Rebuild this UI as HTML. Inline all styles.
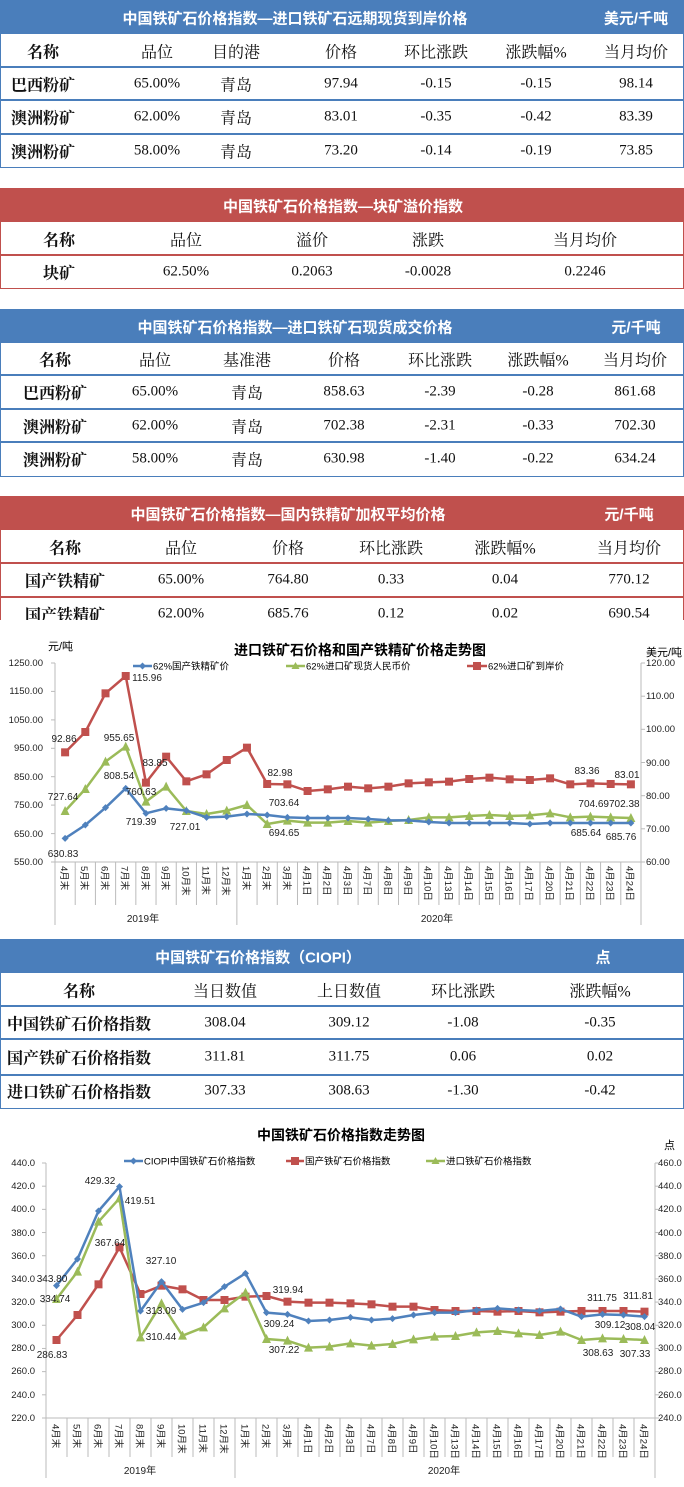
<!DOCTYPE html>
<html><head><meta charset="utf-8">
<style>
html,body{margin:0;padding:0;background:#fff}
body{width:684px;height:1487px;position:relative;overflow:hidden;font-family:"Liberation Serif","Noto Serif CJK SC",serif;color:#111}
.bar{position:absolute;left:0;width:684px;height:34px}
.blue{background:#4a7ebb}.red{background:#c0504d}
.box{position:absolute;left:0;width:682px;border:1px solid;border-top:none}
.ln{position:absolute;left:0;width:684px;height:1.5px}
.t{position:absolute;transform:translate(-50%,-50%);white-space:nowrap;font-size:15px}
.h{font-size:16px}
.b{font-weight:bold;font-size:16px;font-family:"Liberation Serif","Noto Serif CJK SC",serif}
.w{color:#fff;font-weight:bold;font-size:15px;font-family:"Liberation Sans","Noto Sans CJK SC",sans-serif}
svg text{font-family:"Liberation Sans","Noto Sans CJK SC",sans-serif}
</style></head><body>

<!-- Table 1 -->
<div class="bar blue" style="top:0"></div>
<div class="t w" style="left:295px;top:18px">中国铁矿石价格指数—进口铁矿石远期现货到岸价格</div>
<div class="t w" style="left:636px;top:18px">美元/千吨</div>
<div class="box" style="top:34px;height:133px;border-color:#4a7ebb"></div>
<div class="ln" style="top:66px;background:#4a7ebb"></div>
<div class="ln" style="top:99px;background:#4a7ebb"></div>
<div class="ln" style="top:133px;background:#4a7ebb"></div>
<div class="t b" style="left:43px;top:51px">名称</div><div class="t h" style="left:157px;top:51px">品位</div><div class="t h" style="left:236px;top:51px">目的港</div><div class="t h" style="left:341px;top:51px">价格</div><div class="t h" style="left:436px;top:51px">环比涨跌</div><div class="t h" style="left:536px;top:51px">涨跌幅%</div><div class="t h" style="left:636px;top:51px">当月均价</div>
<div class="t b" style="left:43px;top:84px">巴西粉矿</div><div class="t" style="left:157px;top:84px">65.00%</div><div class="t h" style="left:236px;top:84px">青岛</div><div class="t" style="left:341px;top:84px">97.94</div><div class="t" style="left:436px;top:84px">-0.15</div><div class="t" style="left:536px;top:84px">-0.15</div><div class="t" style="left:636px;top:84px">98.14</div>
<div class="t b" style="left:43px;top:117px">澳洲粉矿</div><div class="t" style="left:157px;top:117px">62.00%</div><div class="t h" style="left:236px;top:117px">青岛</div><div class="t" style="left:341px;top:117px">83.01</div><div class="t" style="left:436px;top:117px">-0.35</div><div class="t" style="left:536px;top:117px">-0.42</div><div class="t" style="left:636px;top:117px">83.39</div>
<div class="t b" style="left:43px;top:151px">澳洲粉矿</div><div class="t" style="left:157px;top:151px">58.00%</div><div class="t h" style="left:236px;top:151px">青岛</div><div class="t" style="left:341px;top:151px">73.20</div><div class="t" style="left:436px;top:151px">-0.14</div><div class="t" style="left:536px;top:151px">-0.19</div><div class="t" style="left:636px;top:151px">73.85</div>

<!-- Table 2 -->
<div class="bar red" style="top:188px"></div>
<div class="t w" style="left:343px;top:206px">中国铁矿石价格指数—块矿溢价指数</div>
<div class="box" style="top:222px;height:66px;border-color:#c0504d"></div>
<div class="ln" style="top:254px;background:#c0504d"></div>
<div class="t b" style="left:59px;top:239px">名称</div><div class="t h" style="left:186px;top:239px">品位</div><div class="t h" style="left:312px;top:239px">溢价</div><div class="t h" style="left:428px;top:239px">涨跌</div><div class="t h" style="left:585px;top:239px">当月均价</div>
<div class="t b" style="left:59px;top:272px">块矿</div><div class="t" style="left:186px;top:272px">62.50%</div><div class="t" style="left:312px;top:272px">0.2063</div><div class="t" style="left:428px;top:272px">-0.0028</div><div class="t" style="left:585px;top:272px">0.2246</div>

<!-- Table 3 -->
<div class="bar blue" style="top:309px"></div>
<div class="t w" style="left:295px;top:327px">中国铁矿石价格指数—进口铁矿石现货成交价格</div>
<div class="t w" style="left:636px;top:327px">元/千吨</div>
<div class="box" style="top:343px;height:133px;border-color:#4a7ebb"></div>
<div class="ln" style="top:374px;background:#4a7ebb"></div>
<div class="ln" style="top:408px;background:#4a7ebb"></div>
<div class="ln" style="top:441px;background:#4a7ebb"></div>
<div class="t b" style="left:55px;top:359px">名称</div><div class="t h" style="left:155px;top:359px">品位</div><div class="t h" style="left:247px;top:359px">基准港</div><div class="t h" style="left:344px;top:359px">价格</div><div class="t h" style="left:440px;top:359px">环比涨跌</div><div class="t h" style="left:538px;top:359px">涨跌幅%</div><div class="t h" style="left:635px;top:359px">当月均价</div>
<div class="t b" style="left:55px;top:392px">巴西粉矿</div><div class="t" style="left:155px;top:392px">65.00%</div><div class="t h" style="left:247px;top:392px">青岛</div><div class="t" style="left:344px;top:392px">858.63</div><div class="t" style="left:440px;top:392px">-2.39</div><div class="t" style="left:538px;top:392px">-0.28</div><div class="t" style="left:635px;top:392px">861.68</div>
<div class="t b" style="left:55px;top:426px">澳洲粉矿</div><div class="t" style="left:155px;top:426px">62.00%</div><div class="t h" style="left:247px;top:426px">青岛</div><div class="t" style="left:344px;top:426px">702.38</div><div class="t" style="left:440px;top:426px">-2.31</div><div class="t" style="left:538px;top:426px">-0.33</div><div class="t" style="left:635px;top:426px">702.30</div>
<div class="t b" style="left:55px;top:459px">澳洲粉矿</div><div class="t" style="left:155px;top:459px">58.00%</div><div class="t h" style="left:247px;top:459px">青岛</div><div class="t" style="left:344px;top:459px">630.98</div><div class="t" style="left:440px;top:459px">-1.40</div><div class="t" style="left:538px;top:459px">-0.22</div><div class="t" style="left:635px;top:459px">634.24</div>

<!-- Table 4 -->
<div style="position:absolute;left:0;top:496px;width:684px;height:124px;overflow:hidden">
<div class="bar red" style="top:0"></div>
<div class="t w" style="left:288px;top:18px">中国铁矿石价格指数—国内铁精矿加权平均价格</div>
<div class="t w" style="left:629px;top:18px">元/千吨</div>
<div class="box" style="top:34px;height:140px;border-color:#c0504d"></div>
<div class="ln" style="top:66px;background:#c0504d"></div>
<div class="ln" style="top:100px;background:#c0504d"></div>
<div class="t b" style="left:65px;top:51px">名称</div><div class="t h" style="left:181px;top:51px">品位</div><div class="t h" style="left:288px;top:51px">价格</div><div class="t h" style="left:391px;top:51px">环比涨跌</div><div class="t h" style="left:505px;top:51px">涨跌幅%</div><div class="t h" style="left:629px;top:51px">当月均价</div>
<div class="t b" style="left:65px;top:84px">国产铁精矿</div><div class="t" style="left:181px;top:84px">65.00%</div><div class="t" style="left:288px;top:84px">764.80</div><div class="t" style="left:391px;top:84px">0.33</div><div class="t" style="left:505px;top:84px">0.04</div><div class="t" style="left:629px;top:84px">770.12</div>
<div class="t b" style="left:65px;top:118px">国产铁精矿</div><div class="t" style="left:181px;top:118px">62.00%</div><div class="t" style="left:288px;top:118px">685.76</div><div class="t" style="left:391px;top:118px">0.12</div><div class="t" style="left:505px;top:118px">0.02</div><div class="t" style="left:629px;top:118px">690.54</div>
</div>

<!-- Chart 1 -->
<svg style="position:absolute;left:0;top:620px" width="684" height="310" viewBox="0 620 684 310">
<text x="360" y="655" text-anchor="middle" font-size="14" font-weight="bold" font-family="Liberation Serif,Noto Serif CJK SC,serif">进口铁矿石价格和国产铁精矿价格走势图</text>
<text x="48" y="650" font-size="11">元/吨</text>
<text x="646" y="656" font-size="11">美元/吨</text>
<g font-size="9.5" fill="#222">
<text x="43" y="666" text-anchor="end">1250.00</text><text x="43" y="694" text-anchor="end">1150.00</text><text x="43" y="723" text-anchor="end">1050.00</text><text x="43" y="751" text-anchor="end">950.00</text><text x="43" y="780" text-anchor="end">850.00</text><text x="43" y="808" text-anchor="end">750.00</text><text x="43" y="837" text-anchor="end">650.00</text><text x="43" y="865" text-anchor="end">550.00</text>
<text x="646" y="666">120.00</text><text x="646" y="699">110.00</text><text x="646" y="732">100.00</text><text x="646" y="766">90.00</text><text x="646" y="799">80.00</text><text x="646" y="832">70.00</text><text x="646" y="865">60.00</text>
</g>
<g stroke="#bbb" stroke-width="1" id="g1axes"></g>
<g id="g1data"></g>
<g font-size="9.5">
<line x1="133" y1="666" x2="152" y2="666" stroke="#4f81bd" stroke-width="2.5"/><path d="M142.5 662.5l3.5 3.5-3.5 3.5-3.5-3.5z" fill="#4f81bd"/><text x="153" y="669.5">62%国产铁精矿价</text>
<line x1="286" y1="666" x2="305" y2="666" stroke="#9bbb59" stroke-width="2.5"/><path d="M295.5 662l4 7h-8z" fill="#9bbb59"/><text x="306" y="669.5">62%进口矿现货人民币价</text>
<line x1="467" y1="666" x2="487" y2="666" stroke="#c0504d" stroke-width="2.5"/><rect x="473" y="662" width="8" height="8" fill="#c0504d"/><text x="488" y="669.5">62%进口矿到岸价</text>
</g>
<g font-size="10" text-anchor="middle" fill="#222">
<text x="64" y="742">92.86</text><text x="147" y="681">115.96</text><text x="119" y="741">955.65</text><text x="119" y="779">808.54</text><text x="63" y="800">727.64</text><text x="141" y="795">760.63</text><text x="155" y="766">83.85</text><text x="141" y="825">719.39</text><text x="185" y="830">727.01</text><text x="280" y="776">82.98</text><text x="284" y="806">703.64</text><text x="284" y="836">694.65</text><text x="63" y="857">630.83</text><text x="587" y="774">83.36</text><text x="627" y="778">83.01</text><text x="609" y="807">704.69702.38</text><text x="586" y="836">685.64</text><text x="621" y="840">685.76</text>
</g>
<g font-size="9.5" fill="#222">
<text transform="translate(61,866) rotate(90)">4月末</text><text transform="translate(81,866) rotate(90)">5月末</text><text transform="translate(101.5,866) rotate(90)">6月末</text><text transform="translate(121.7,866) rotate(90)">7月末</text><text transform="translate(141.9,866) rotate(90)">8月末</text><text transform="translate(162.1,866) rotate(90)">9月末</text><text transform="translate(182.3,866) rotate(90)">10月末</text><text transform="translate(202.5,866) rotate(90)">11月末</text><text transform="translate(222.7,866) rotate(90)">12月末</text><text transform="translate(242.9,866) rotate(90)">1月末</text><text transform="translate(263.1,866) rotate(90)">2月末</text><text transform="translate(283.3,866) rotate(90)">3月末</text><text transform="translate(303.5,866) rotate(90)">4月1日</text><text transform="translate(323.7,866) rotate(90)">4月2日</text><text transform="translate(343.9,866) rotate(90)">4月3日</text><text transform="translate(364.1,866) rotate(90)">4月7日</text><text transform="translate(384.3,866) rotate(90)">4月8日</text><text transform="translate(404.5,866) rotate(90)">4月9日</text><text transform="translate(424.7,866) rotate(90)">4月10日</text><text transform="translate(444.9,866) rotate(90)">4月13日</text><text transform="translate(465.1,866) rotate(90)">4月14日</text><text transform="translate(485.3,866) rotate(90)">4月15日</text><text transform="translate(505.5,866) rotate(90)">4月16日</text><text transform="translate(525.7,866) rotate(90)">4月17日</text><text transform="translate(545.9,866) rotate(90)">4月20日</text><text transform="translate(566.1,866) rotate(90)">4月21日</text><text transform="translate(586.3,866) rotate(90)">4月22日</text><text transform="translate(606.5,866) rotate(90)">4月23日</text><text transform="translate(626.7,866) rotate(90)">4月24日</text>
<text x="143" y="922" text-anchor="middle" font-size="10">2019年</text><text x="437" y="922" text-anchor="middle" font-size="10">2020年</text>
</g>
</svg>

<!-- Table 5 -->
<div class="bar blue" style="top:939px"></div>
<div class="t w" style="left:258px;top:957px">中国铁矿石价格指数（CIOPI）</div>
<div class="t w" style="left:603px;top:957px">点</div>
<div class="box" style="top:973px;height:135px;border-color:#4a7ebb"></div>
<div class="ln" style="top:1005px;background:#4a7ebb"></div>
<div class="ln" style="top:1038px;background:#4a7ebb"></div>
<div class="ln" style="top:1074px;background:#4a7ebb"></div>
<div class="t b" style="left:79px;top:990px">名称</div><div class="t h" style="left:225px;top:990px">当日数值</div><div class="t h" style="left:349px;top:990px">上日数值</div><div class="t h" style="left:463px;top:990px">环比涨跌</div><div class="t h" style="left:600px;top:990px">涨跌幅%</div>
<div class="t b" style="left:79px;top:1023px">中国铁矿石价格指数</div><div class="t" style="left:225px;top:1023px">308.04</div><div class="t" style="left:349px;top:1023px">309.12</div><div class="t" style="left:463px;top:1023px">-1.08</div><div class="t" style="left:600px;top:1023px">-0.35</div>
<div class="t b" style="left:79px;top:1057px">国产铁矿石价格指数</div><div class="t" style="left:225px;top:1057px">311.81</div><div class="t" style="left:349px;top:1057px">311.75</div><div class="t" style="left:463px;top:1057px">0.06</div><div class="t" style="left:600px;top:1057px">0.02</div>
<div class="t b" style="left:79px;top:1091px">进口铁矿石价格指数</div><div class="t" style="left:225px;top:1091px">307.33</div><div class="t" style="left:349px;top:1091px">308.63</div><div class="t" style="left:463px;top:1091px">-1.30</div><div class="t" style="left:600px;top:1091px">-0.42</div>

<!-- Chart 2 -->
<svg style="position:absolute;left:0;top:1120px" width="684" height="367" viewBox="0 1120 684 367">
<text x="341" y="1140" text-anchor="middle" font-size="14" font-weight="bold" font-family="Liberation Serif,Noto Serif CJK SC,serif">中国铁矿石价格指数走势图</text>
<text x="664" y="1149" font-size="11">点</text>
<g font-size="9.5" fill="#222">
<text x="35" y="1166" text-anchor="end">440.0</text><text x="35" y="1189" text-anchor="end">420.0</text><text x="35" y="1212" text-anchor="end">400.0</text><text x="35" y="1236" text-anchor="end">380.0</text><text x="35" y="1259" text-anchor="end">360.0</text><text x="35" y="1282" text-anchor="end">340.0</text><text x="35" y="1305" text-anchor="end">320.0</text><text x="35" y="1328" text-anchor="end">300.0</text><text x="35" y="1351" text-anchor="end">280.0</text><text x="35" y="1374" text-anchor="end">260.0</text><text x="35" y="1398" text-anchor="end">240.0</text><text x="35" y="1421" text-anchor="end">220.0</text>
<text x="658" y="1166">460.0</text><text x="658" y="1189">440.0</text><text x="658" y="1212">420.0</text><text x="658" y="1236">400.0</text><text x="658" y="1259">380.0</text><text x="658" y="1282">360.0</text><text x="658" y="1305">340.0</text><text x="658" y="1328">320.0</text><text x="658" y="1351">300.0</text><text x="658" y="1374">280.0</text><text x="658" y="1398">260.0</text><text x="658" y="1421">240.0</text>
</g>
<g stroke="#bbb" stroke-width="1" id="g2axes"></g>
<g id="g2data"></g>
<g font-size="9.5">
<line x1="124" y1="1161" x2="143" y2="1161" stroke="#4f81bd" stroke-width="2.5"/><path d="M133.5 1157.5l3.5 3.5-3.5 3.5-3.5-3.5z" fill="#4f81bd"/><text x="144" y="1164.5">CIOPI中国铁矿石价格指数</text>
<line x1="286" y1="1161" x2="304" y2="1161" stroke="#c0504d" stroke-width="2.5"/><rect x="291" y="1157" width="8" height="8" fill="#c0504d"/><text x="305" y="1164.5">国产铁矿石价格指数</text>
<line x1="426" y1="1161" x2="445" y2="1161" stroke="#9bbb59" stroke-width="2.5"/><path d="M435.5 1157l4 7h-8z" fill="#9bbb59"/><text x="446" y="1164.5">进口铁矿石价格指数</text>
</g>
<g font-size="10" text-anchor="middle" fill="#222">
<text x="52" y="1282">343.80</text><text x="55" y="1302">334.74</text><text x="100" y="1184">429.32</text><text x="140" y="1204">419.51</text><text x="110" y="1246">367.64</text><text x="161" y="1264">327.10</text><text x="161" y="1314">313.09</text><text x="161" y="1340">310.44</text><text x="52" y="1358">286.83</text><text x="288" y="1293">319.94</text><text x="279" y="1327">309.24</text><text x="284" y="1353">307.22</text><text x="602" y="1301">311.75</text><text x="638" y="1299">311.81</text><text x="610" y="1328">309.12</text><text x="640" y="1330">308.04</text><text x="598" y="1356">308.63</text><text x="635" y="1357">307.33</text>
</g>
<g font-size="9.5" fill="#222">
<text transform="translate(52.5,1424) rotate(90)">4月末</text><text transform="translate(73.5,1424) rotate(90)">5月末</text><text transform="translate(94.5,1424) rotate(90)">6月末</text><text transform="translate(115.5,1424) rotate(90)">7月末</text><text transform="translate(136.5,1424) rotate(90)">8月末</text><text transform="translate(157.5,1424) rotate(90)">9月末</text><text transform="translate(178.5,1424) rotate(90)">10月末</text><text transform="translate(199.5,1424) rotate(90)">11月末</text><text transform="translate(220.5,1424) rotate(90)">12月末</text><text transform="translate(241.5,1424) rotate(90)">1月末</text><text transform="translate(262.5,1424) rotate(90)">2月末</text><text transform="translate(283.5,1424) rotate(90)">3月末</text><text transform="translate(304.5,1424) rotate(90)">4月1日</text><text transform="translate(325.5,1424) rotate(90)">4月2日</text><text transform="translate(346.5,1424) rotate(90)">4月3日</text><text transform="translate(367.5,1424) rotate(90)">4月7日</text><text transform="translate(388.5,1424) rotate(90)">4月8日</text><text transform="translate(409.5,1424) rotate(90)">4月9日</text><text transform="translate(430.5,1424) rotate(90)">4月10日</text><text transform="translate(451.5,1424) rotate(90)">4月13日</text><text transform="translate(472.5,1424) rotate(90)">4月14日</text><text transform="translate(493.5,1424) rotate(90)">4月15日</text><text transform="translate(514.5,1424) rotate(90)">4月16日</text><text transform="translate(535.5,1424) rotate(90)">4月17日</text><text transform="translate(556.5,1424) rotate(90)">4月20日</text><text transform="translate(577.5,1424) rotate(90)">4月21日</text><text transform="translate(598.5,1424) rotate(90)">4月22日</text><text transform="translate(619.5,1424) rotate(90)">4月23日</text><text transform="translate(640.5,1424) rotate(90)">4月24日</text>
<text x="140" y="1474" text-anchor="middle" font-size="10">2019年</text><text x="444" y="1474" text-anchor="middle" font-size="10">2020年</text>
</g>
</svg>

<script>
var NS="http://www.w3.org/2000/svg";
function el(p,n,a){var e=document.createElementNS(NS,n);for(var k in a)e.setAttribute(k,a[k]);p.appendChild(e);return e;}
function axes(id,L,R,T,B,catB,yearB,n,ticksL,ticksR,div){
 var g=document.getElementById(id);var w=(R-L)/n;
 el(g,"line",{x1:L,y1:T,x2:L,y2:yearB});el(g,"line",{x1:R,y1:T,x2:R,y2:yearB});
 el(g,"line",{x1:L,y1:B,x2:R,y2:B});
 for(var i=1;i<n;i++){var x=L+w*i;el(g,"line",{x1:x,y1:B,x2:x,y2:(i==div?yearB:catB)});}
 ticksL.forEach(function(y){el(g,"line",{x1:L-4,y1:y,x2:L,y2:y});});
 ticksR.forEach(function(y){el(g,"line",{x1:R,y1:y,x2:R+4,y2:y});});
}
function series(id,L,w,off,ys,col,mk,sz){
 var g=document.getElementById(id);var pts=[];
 ys.forEach(function(zy,i){pts.push([L+w*(i+0.5),off+zy/3]);});
 el(g,"polyline",{points:pts.map(function(p){return p.join(",");}).join(" "),fill:"none",stroke:col,"stroke-width":2.5,"stroke-linejoin":"round"});
 pts.forEach(function(p){var x=p[0],y=p[1],s=sz;
  if(mk=="sq")el(g,"rect",{x:x-s,y:y-s,width:2*s,height:2*s,fill:col});
  else if(mk=="tri")el(g,"path",{d:"M"+x+" "+(y-s-0.5)+"L"+(x+s)+" "+(y+s-0.5)+"L"+(x-s)+" "+(y+s-0.5)+"Z",fill:col});
  else el(g,"path",{d:"M"+x+" "+(y-s)+"L"+(x+s)+" "+y+"L"+x+" "+(y+s)+"L"+(x-s)+" "+y+"Z",fill:col});});
}
// chart1
var l1=[663,691.4,719.9,748.3,776.7,805.1,833.6,862],r1=[663,696.2,729.3,762.5,795.7,828.8,862];
axes("g1axes",55,641,663,862,905,925,29,l1,r1,9);
var w1=(641-55)/29;
series("g1data",55,w1,620,[397,336,220,168,488,410,484,463,420,383,492,493,513,508,500,505,500,490,487,485,477,473,478,480,475,493,490,492,493],"#c0504d","sq",4);
series("g1data",55,w1,620,[573,507,425,380,545,500,573,582,572,555,612,602,608,608,603,608,603,600,592,592,588,585,588,586,580,592,590,592,594],"#9bbb59","tri",4.5);
series("g1data",55,w1,620,[655,615,563,505,580,565,572,592,590,582,585,592,594,594,594,597,601,601,606,609,609,609,609,612,609,609,609,609,609],"#4f81bd","dia",3.5);
// chart2
var l2=[];for(var i=0;i<12;i++)l2.push(1163+i*(255/11));
axes("g2axes",46,655,1163,1418,1457,1478,29,l2,l2,9);
var w2=(655-46)/29;
series("g2data",46,w2,1120,[660,585,493,382,522,497,508,540,540,530,528,545,548,548,550,553,560,560,570,573,573,575,573,577,575,573,573,573,575],"#c0504d","sq",4);
series("g2data",46,w2,1120,[537,455,305,235,652,550,647,622,565,518,657,662,683,680,670,677,672,658,650,648,637,633,640,645,635,660,655,657,660],"#9bbb59","tri",4.5);
series("g2data",46,w2,1120,[497,417,273,200,573,485,568,548,500,460,578,583,603,600,592,600,596,585,578,578,570,565,570,573,567,590,583,585,590],"#4f81bd","dia",3.5);
</script>
</body></html>
